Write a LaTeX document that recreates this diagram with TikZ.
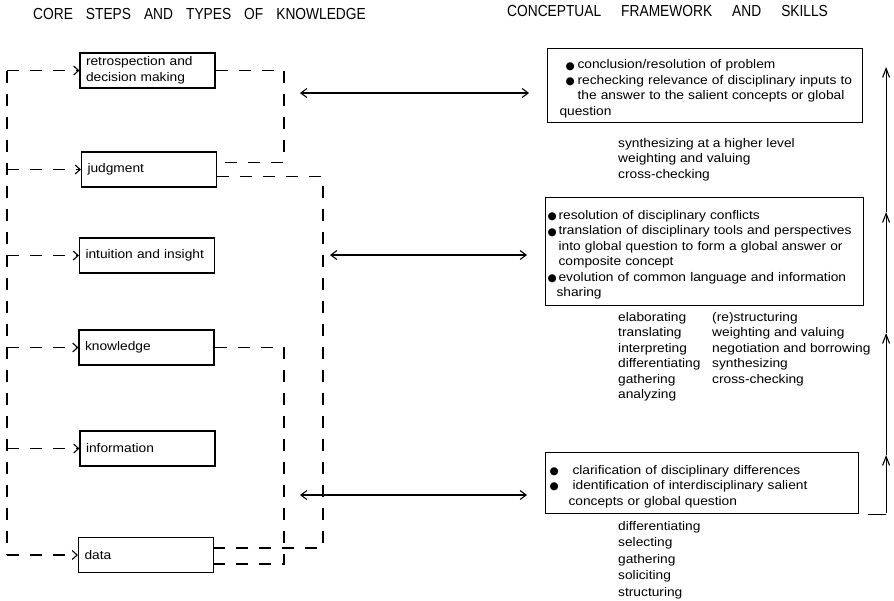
\documentclass[tikz,border=0pt]{standalone}
\usepackage{fontspec}
\setmainfont{Liberation Sans}
\newfontfamily\boxfont{Liberation Sans}[FakeStretch=1.1]
\newfontfamily\headfont{Liberation Sans}[FakeStretch=0.86]
\newfontfamily\symfont{DejaVu Sans}
\usetikzlibrary{arrows.meta,calc}

\newlength\bulwd
\newcommand\bul[1]{\par\noindent\makebox[\bulwd][l]{\raisebox{-0.3pt}{\symfont\fontsize{10.5}{10.5}\selectfont ●}}\mbox{#1}}
\newcommand\cont[1]{\par\noindent\hspace*{\bulwd}\mbox{#1}}

\tikzset{
  stepbox/.style={draw, line width=1.1pt, text width=123pt, inner xsep=6pt, inner ysep=0pt,
    minimum height=35pt, align=left, font=\boxfont\fontsize{12.5}{15.5}\selectfont},
  framebox/.style={draw, line width=1.1pt, anchor=north west, inner sep=0pt, align=left,
    font=\boxfont\fontsize{12.5}{15.5}\selectfont},
  skills/.style={anchor=north west, inner sep=0pt, align=left, font=\boxfont\fontsize{12.5}{15.5}\selectfont},
  heading/.style={anchor=west, inner sep=0pt, font=\headfont\fontsize{16}{16}\selectfont},
  link/.style={line width=1.1pt, dash pattern=on 12pt off 11pt},
  feed/.style={link, -{Straight Barb[length=5pt,width=9pt]}},
  both/.style={line width=1.1pt, {Straight Barb[length=6pt,width=9pt]}-{Straight Barb[length=6pt,width=9pt]}},
  rise/.style={line width=1.1pt, -{Straight Barb[length=9pt,width=7pt]}},
}

\begin{document}
\begin{tikzpicture}[x=1pt,y=-1pt]
    \useasboundingbox (0,0) rectangle (894,600);

    % Headings
    \node[heading] (corehead) at (33,14) {\spaceskip=13pt CORE STEPS AND TYPES OF KNOWLEDGE};
    \node[heading] (framehead) at (507,11) {\spaceskip=20pt CONCEPTUAL FRAMEWORK AND SKILLS};

    % Core steps on the left
    \node[stepbox] (retro) at (147.5,70.5) {retrospection and\\decision making};
    \node[stepbox] (judg) at (149,169.5) {judgment};
    \node[stepbox] (intu) at (147,255.5) {intuition and insight};
    \node[stepbox] (know) at (146.5,347.5) {knowledge};
    \node[stepbox] (info) at (147.5,448.5) {information};
    \node[stepbox] (data) at (146,555) {data};

    % Framework boxes on the right
    \node[framebox, text width=315pt, minimum height=74pt] (concl) at (547,48) {\leftskip=18pt\bulwd=12pt
      \bul{conclusion/resolution of problem}
      \bul{rechecking relevance of disciplinary inputs to}
      \cont{the answer to the salient concepts or global}
      \cont{question}};
    \node[framebox, text width=318pt, minimum height=108pt] (resol) at (545,197) {\leftskip=2pt\bulwd=11pt
      \bul{resolution of disciplinary conflicts}
      \bul{translation of disciplinary tools and perspectives}
      \cont{into global question to form a global answer or}
      \cont{composite concept}
      \bul{evolution of common language and information}
      \cont{sharing}};
    \node[framebox, text width=313pt, minimum height=61pt] (clar) at (545,452) {\leftskip=4pt\bulwd=23pt
      \bul{clarification of disciplinary differences}
      \bul{identification of interdisciplinary salient}
      \cont{concepts or global question}};

    % Skills under the boxes
    \node[skills] (higher) at (618,138) {synthesizing at a higher level\\weighting and valuing\\cross-checking};
    \node[skills] (midleft) at (618,312) {elaborating\\translating\\interpreting\\differentiating\\gathering\\analyzing};
    \node[skills] (midright) at (712,312) {(re)structuring\\weighting and valuing\\negotiation and borrowing\\synthesizing\\cross-checking};
    \node[skills, font=\boxfont\fontsize{12.5}{16.5}\selectfont] (lower) at (618,521) {differentiating\\selecting\\gathering\\soliciting\\structuring};

    % Rails for the dashed links
    \coordinate (rail) at (7,0);
    \coordinate (railA) at (284,0);
    \coordinate (railB) at (323,0);
    \coordinate (judgUp) at ([yshift=7pt]judg.east);
    \coordinate (judgLow) at ([yshift=-7pt]judg.east);
    \coordinate (dataUp) at ([yshift=7pt]data.east);
    \coordinate (dataLow) at ([yshift=-9pt]data.east);

    % Dashed feed on the left
    \draw[link] (rail |- retro.west) -- (rail |- data.west);
    \foreach \n in {retro,judg,intu,know,info,data}
        \draw[feed] (rail |- \n.west) -- (\n.west);

    % Dashed brackets on the right of the steps
    \draw[link] (retro.east) -| (railA |- judgUp) -- (judgUp);
    \draw[link] (judgLow) -| (railB |- dataUp) -- (dataUp);
    \draw[link] (know.east) -| (railA |- dataLow) -- (dataLow);

    % Double arrows between both sides
    \coordinate (q1) at (300,93);
    \coordinate (q2) at (330,255);
    \coordinate (q3) at (300,495);
    \draw[both, shorten >=18pt] (q1) -- (q1 -| concl.west);
    \draw[both, shorten >=18pt] (q2) -- (q2 -| resol.west);
    \draw[both, shorten >=18pt] (q3) -- (q3 -| clar.west);

    % Rising arrow on the far right
    \coordinate (climb) at ([xshift=27pt]clar.south east);
    \draw[line width=1.1pt] ([xshift=9pt]clar.south east) -- (climb);
    \foreach \a/\b in {513/455, 455/333, 333/212, 212/67}
        \draw[rise] (climb |- 0,\a) -- (climb |- 0,\b);
\end{tikzpicture}
\end{document}
